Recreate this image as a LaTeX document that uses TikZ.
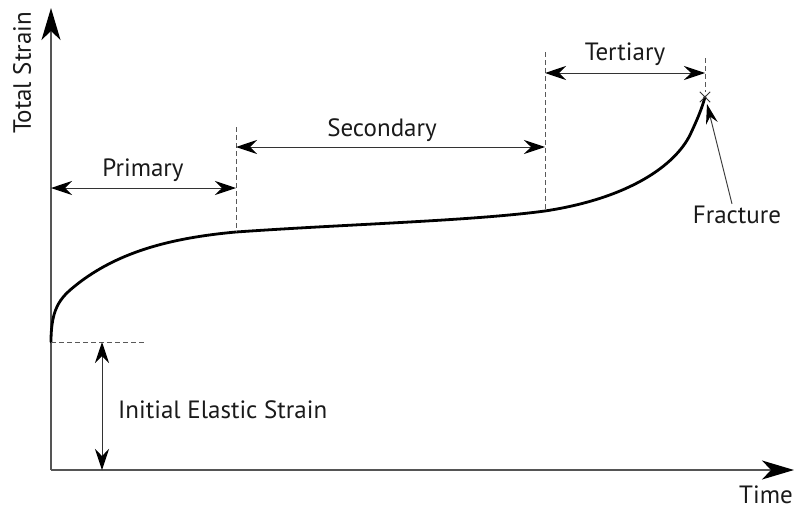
\documentclass[tikz,border=0pt]{standalone}
\usepackage{fontspec}
\setmainfont{PT Sans}
\usetikzlibrary{arrows.meta}
\definecolor{axisgray}{HTML}{555555}
\definecolor{txt}{HTML}{1a1a1a}
\begin{document}
\begin{tikzpicture}[x=1pt,y=-1pt,
  lbl/.style={text=txt,font=\fontsize{25}{28}\selectfont,inner sep=0pt},
  axisline/.style={draw=axisgray,line width=1.5pt,-{Stealth[length=32pt,width=19pt,inset=9pt,black]}},
  tip/.tip={Stealth[length=21pt,width=14pt,inset=7pt,black]},
  dimline/.style={draw=black!80,line width=1pt,tip-tip},
  guide/.style={draw=black!65,line width=0.8pt,dash pattern=on 5pt off 3pt},
  curveline/.style={draw=black,line width=2.8pt,line cap=round}]
\useasboundingbox (0,0) rectangle (794,514);
% axes
\coordinate (O) at (51,470);
\coordinate (Ytop) at (51,8);
\coordinate (Xend) at (794,470);
\draw[axisline] (O) -- (Ytop);
\draw[axisline] (O) -- (Xend);
\node[lbl,rotate=90] (ylab) at (22,73) {Total Strain};
\node[lbl] (xlab) at (766,495) {Time};
% curve
\coordinate (C0) at (51,342);
\coordinate (C1) at (236,232);
\coordinate (C2) at (545,211);
\coordinate (C3) at (705,97);
\draw[curveline] (C0) .. controls (51,305) and (62,296) .. (80,282)
  .. controls (120,252) and (170,238) .. (C1)
  .. controls (350,224) and (470,221) .. (C2)
  .. controls (630,198) and (675,165) .. (690,135)
  .. controls (698,118) and (702,108) .. (C3);
% fracture marker
\node[inner sep=0pt,minimum size=10pt] (X) at (C3) {};
\draw[black!80,line width=1pt] (X.north west) -- (X.south east) (X.north east) -- (X.south west);
% guides
\coordinate (G0) at (145,342);
\draw[guide] (C0) -- (G0);
\coordinate (D1t) at (236,127);
\draw[guide] (D1t) -- (C1);
\coordinate (D2t) at (545,52);
\draw[guide] (D2t) -- (C2);
\coordinate (D3t) at (705,58);
\coordinate (D3b) at (705,92);
\draw[guide] (D3t) -- (D3b);
% dimension arrows
\coordinate (Pa) at (51,188); \coordinate (Pb) at (236,188);
\draw[dimline] (Pa) -- (Pb);
\node[lbl] (prim) at (143,170) {Primary};
\coordinate (Sa) at (236,147); \coordinate (Sb) at (545,147);
\draw[dimline] (Sa) -- (Sb);
\node[lbl] (sec) at (382,130) {Secondary};
\coordinate (Ta) at (545,73); \coordinate (Tb) at (705,73);
\draw[dimline] (Ta) -- (Tb);
\node[lbl] (ter) at (625,54) {Tertiary};
\coordinate (Ea) at (102,342); \coordinate (Eb) at (102,470);
\draw[dimline] (Ea) -- (Eb);
\node[lbl,anchor=west] (elab) at (118,410) {Initial Elastic Strain};
% fracture
\node[lbl] (frac) at (737,215) {Fracture};
\coordinate (Fp) at (707,104);
\draw[draw=black!75,line width=1pt,-{Stealth[length=20pt,width=12pt,inset=7pt,black]}] (frac.north) ++(-5,-2) -- (Fp);
\end{tikzpicture}
\end{document}
